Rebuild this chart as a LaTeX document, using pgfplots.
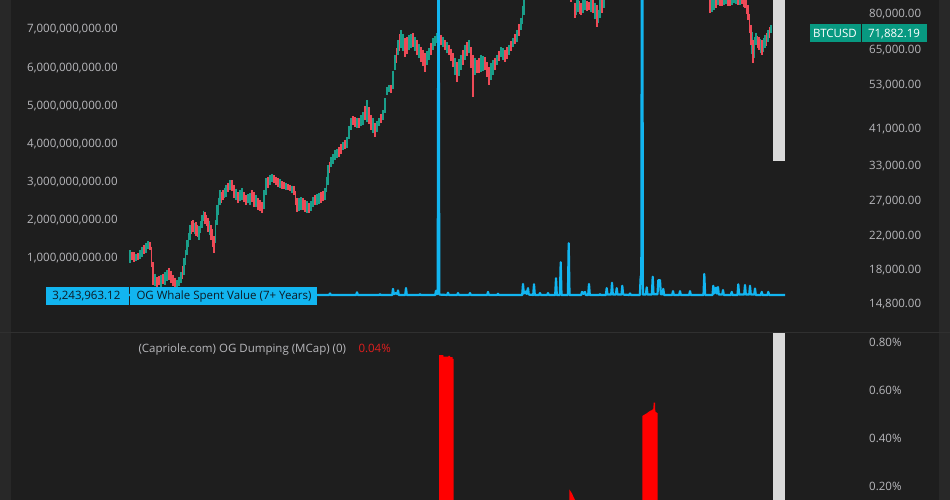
\documentclass[border=0pt]{standalone}
\usepackage{pgfplots}
\pgfplotsset{compat=1.18}
\usepackage{fontspec}
\setmainfont{Open Sans}
\definecolor{bg}{HTML}{1E1E1E}
\definecolor{strip}{HTML}{282828}
\definecolor{sep}{HTML}{303030}
\definecolor{tick}{HTML}{B8B8BC}
\definecolor{whale}{HTML}{12B5F0}
\definecolor{boxtxt}{HTML}{0D1B26}
\definecolor{btcbox}{HTML}{089981}
\definecolor{upc}{HTML}{1A9E8A}
\definecolor{dnc}{HTML}{EE4A57}
\definecolor{ogred}{HTML}{FF0000}
\definecolor{pctred}{HTML}{E01E1E}
\definecolor{scroll}{HTML}{DADADA}
\newcommand\tvfont{\fontsize{11.5pt}{13pt}\selectfont}

\pgfplotsset{
  tvpane/.style={scale only axis, width=950pt, xmin=0, xmax=950,
    axis line style={draw=none}, xtick=\empty, major tick length=0pt,
    minor tick length=0pt, tick style={draw=none}, clip=true,
    yticklabel style={font=\tvfont, text=tick, inner sep=0pt, anchor=west,
      text height=8pt, text depth=0pt}},
}

\begin{document}
\begin{tikzpicture}
\useasboundingbox (0,0) rectangle (950pt,500pt);
\fill[bg] (0,0) rectangle (950pt,500pt);
\fill[strip] (0,0) rectangle (10.7pt,500pt);
\fill[strip] (939.3pt,0) rectangle (950pt,500pt);
\draw[sep, line width=1pt] (0,167.5pt) -- (950pt,167.5pt);

% BTCUSD candles (high, low), log price scale (right)
\begin{axis}[tvpane, at={(0,168pt)}, anchor=south west, height=332pt,
  ymode=log, ymin=12520, ymax=86790, unbounded coords=jump,
  ytick={14800,18000,22000,27000,33000,41000,53000,65000,80000},
  yticklabels={{14,800.00},{18,000.00},{22,000.00},{27,000.00},{33,000.00},{41,000.00},{53,000.00},{65,000.00},{80,000.00}},
  yticklabel pos=right, yticklabel style={xshift=-81pt}]
\addplot[upc, line width=1.7pt] coordinates {
(130,20190)(130,18710)(130,nan) (136,19700)(136,18900)(136,nan) (140,20200)(140,19200)(140,nan)
(142,20540)(142,19380)(142,nan) (146,21030)(146,19840)(146,nan) (148,21300)(148,20300)(148,nan)
(155,17600)(155,16350)(155,nan) (161,17450)(161,16270)(161,nan) (165,17760)(165,16460)(165,nan)
(167,18000)(167,16900)(167,nan) (177,16950)(177,16270)(177,nan) (179,17300)(179,16400)(179,nan)
(181,17760)(181,16660)(181,nan) (184,19270)(184,17450)(184,nan) (185.5,20200)(185.5,18500)(185.5,nan)
(187,21400)(187,19610)(187,nan) (188.5,22300)(188.5,20600)(188.5,nan) (190,23360)(190,21400)(190,nan)
(194.5,23600)(194.5,22200)(194.5,nan) (199,23220)(199,21400)(199,nan) (200.5,23900)(200.5,22300)(200.5,nan)
(202,24760)(202,22950)(202,nan) (203.5,25400)(203.5,23900)(203.5,nan) (209.5,23900)(209.5,22100)(209.5,nan)
(215.5,24000)(215.5,21000)(215.5,nan) (217,26250)(217,23360)(217,nan) (218.5,27400)(218.5,24800)(218.5,nan)
(220,28660)(220,26250)(220,nan) (224.5,29000)(224.5,27300)(224.5,nan) (226,29500)(226,27510)(226,nan)
(230,30370)(230,28660)(230,nan) (236,28900)(236,27000)(236,nan) (240,28600)(240,26900)(240,nan)
(242,28990)(242,27030)(242,nan) (248,28000)(248,26600)(248,nan) (250,28160)(250,26250)(250,nan)
(256,27800)(256,26000)(256,nan) (264,28600)(264,25600)(264,nan) (266,30730)(266,27830)(266,nan)
(270,31270)(270,29500)(270,nan) (272,31500)(272,30100)(272,nan) (280,30500)(280,29000)(280,nan)
(286,29840)(286,28660)(286,nan) (292,29400)(292,28200)(292,nan) (299,27300)(299,25400)(299,nan)
(301,27510)(301,25500)(301,nan) (307,26800)(307,25100)(307,nan) (311,26900)(311,25400)(311,nan)
(313,27510)(313,25950)(313,nan) (317,27990)(317,26250)(317,nan) (319,28100)(319,26400)(319,nan)
(325,28990)(325,27030)(325,nan) (326.5,31000)(326.5,28300)(326.5,nan) (328,33150)(328,29500)(328,nan)
(331,34740)(331,32770)(331,nan) (333,35400)(333,33400)(333,nan) (335,36180)(335,34130)(335,nan)
(337,36500)(337,34500)(337,nan) (343,37910)(343,36180)(343,nan) (347,39030)(347,36600)(347,nan)
(349,41500)(349,38500)(349,nan) (351,43610)(351,40660)(351,nan) (357,43600)(357,41200)(357,nan)
(361,44400)(361,41500)(361,nan) (363,45170)(363,41860)(363,nan) (367,48430)(367,42600)(367,nan)
(373,43600)(373,40000)(373,nan) (377,42900)(377,40300)(377,nan) (379,43610)(379,41620)(379,nan)
(383,45700)(383,43100)(383,nan) (385,49000)(385,44800)(385,nan) (387,52260)(387,49870)(387,nan)
(389,52800)(389,50600)(389,nan) (393,57500)(393,51500)(393,nan) (395,62980)(395,57710)(395,nan)
(398,68740)(398,62980)(398,nan) (401,72870)(401,65600)(401,nan) (403,71000)(403,64500)(403,nan)
(409,70770)(409,64850)(409,nan) (411,71200)(411,65600)(411,nan) (415,70000)(415,64500)(415,nan)
(419,67000)(419,61700)(419,nan) (427,64500)(427,59500)(427,nan) (429,65600)(429,61170)(429,nan)
(433,69550)(433,64850)(433,nan) (435,70500)(435,66200)(435,nan) (437,71600)(437,67550)(437,nan)
(439,71400)(439,67000)(439,nan) (443,69800)(443,65800)(443,nan) (447,67800)(447,63800)(447,nan)
(455,62000)(455,56000)(455,nan) (459,61600)(459,55600)(459,nan) (461,62980)(461,57710)(461,nan)
(465,66760)(465,61170)(465,nan) (469,68740)(469,63720)(469,nan) (475,62000)(475,56000)(475,nan)
(481,62980)(481,57030)(481,nan) (483,62500)(483,57200)(483,nan) (491,60000)(491,54500)(491,nan)
(493,61170)(493,56040)(493,nan) (497,62980)(497,59410)(497,nan) (501,65990)(501,62250)(501,nan)
(503,65500)(503,61200)(503,nan) (509,66760)(509,62980)(509,nan) (513,69550)(513,65990)(513,nan)
(517,72870)(517,67940)(517,nan) (521,78160)(521,72870)(521,nan) (522.5,84000)(522.5,75500)(522.5,nan)
(524,90500)(524,79530)(524,nan) (530,93000)(530,87500)(530,nan) (536,99000)(536,92000)(536,nan)
(554,106000)(554,98000)(554,nan) (576.5,87000)(576.5,79500)(576.5,nan) (578,88000)(578,80940)(578,nan)
(583,86800)(583,80500)(583,nan) (585,87500)(585,81890)(585,nan) (591,87000)(591,81000)(591,nan)
(595,85500)(595,77500)(595,nan) (598.5,82000)(598.5,75800)(598.5,nan) (600,87000)(600,78160)(600,nan)
(604,92000)(604,82850)(604,nan) (608,97000)(608,88000)(608,nan) (615,104000)(615,95000)(615,nan)
(625,108000)(625,101000)(625,nan) (660,118000)(660,108000)(660,nan) (680,120000)(680,110000)(680,nan)
(712,89000)(712,81000)(712,nan) (714,88000)(714,81890)(714,nan) (718,90000)(718,84310)(718,nan)
(724,90500)(724,84200)(724,nan) (726,90000)(726,84810)(726,nan) (732,91500)(732,84500)(732,nan)
(734,91000)(734,85300)(734,nan) (736,92000)(736,85000)(736,nan) (740,92500)(740,84500)(740,nan)
(752,72000)(752,63500)(752,nan) (754.5,70000)(754.5,62000)(754.5,nan) (756,71600)(756,66760)(756,nan)
(760.5,69000)(760.5,63800)(760.5,nan) (763.5,69500)(763.5,64000)(763.5,nan) (765,70770)(765,65600)(765,nan)
(768,72870)(768,67940)(768,nan) (771,75020)(771,71600)(771,nan)
};
\addplot[dnc, line width=1.7pt] coordinates {
(132,20000)(132,19100)(132,nan) (134,19960)(134,18820)(134,nan) (138,19840)(138,19040)(138,nan)
(144,20800)(144,19700)(144,nan) (150,21150)(150,20190)(150,nan) (151.5,20600)(151.5,18300)(151.5,nan)
(153,18820)(153,16460)(153,nan) (157,17250)(157,16270)(157,nan) (159,17400)(159,16500)(159,nan)
(163,17600)(163,16600)(163,nan) (169,18170)(169,16950)(169,nan) (171,17900)(171,16700)(171,nan)
(173,17450)(173,16370)(173,nan) (175,17200)(175,16300)(175,nan) (182.5,18400)(182.5,17100)(182.5,nan)
(191.5,23900)(191.5,22200)(191.5,nan) (193,24050)(193,22420)(193,nan) (196,23770)(196,21900)(196,nan)
(197.5,23400)(197.5,21800)(197.5,nan) (205,25200)(205,23490)(205,nan) (206.5,24800)(206.5,23200)(206.5,nan)
(208,24330)(208,22420)(208,nan) (211,23360)(211,21400)(211,nan) (212.5,22800)(212.5,20600)(212.5,nan)
(214,21900)(214,19840)(214,nan) (221.5,28300)(221.5,26600)(221.5,nan) (223,28660)(223,27030)(223,nan)
(228,29900)(228,28300)(228,nan) (232,30300)(232,28500)(232,nan) (234,29500)(234,27350)(234,nan)
(238,28320)(238,26560)(238,nan) (244,28300)(244,26700)(244,nan) (246,27830)(246,26250)(246,nan)
(252,28600)(252,26700)(252,nan) (254,28320)(254,25950)(254,nan) (258,27350)(258,25500)(258,nan)
(260,27000)(260,25300)(260,nan) (262,26710)(262,25050)(262,nan) (268,31000)(268,29000)(268,nan)
(274,31270)(274,29840)(274,nan) (276,31000)(276,29500)(276,nan) (278,30730)(278,29160)(278,nan)
(282,30190)(282,28820)(282,nan) (284,30100)(284,28800)(284,nan) (288,29700)(288,28600)(288,nan)
(290,29500)(290,28490)(290,nan) (294,29330)(294,27830)(294,nan) (295.5,28500)(295.5,26200)(295.5,nan)
(297,27350)(297,25200)(297,nan) (303,27300)(303,25500)(303,nan) (305,27030)(305,25200)(305,nan)
(309,26560)(309,25050)(309,nan) (315,27800)(315,26200)(315,nan) (321,28320)(321,26560)(321,nan)
(323,28500)(323,26800)(323,nan) (329.5,33800)(329.5,31600)(329.5,nan) (339,36820)(339,34740)(339,nan)
(341,37400)(341,35400)(341,nan) (345,38400)(345,36300)(345,nan) (353,44000)(353,41800)(353,nan)
(355,43870)(355,41380)(355,nan) (359,43610)(359,41140)(359,nan) (365,46700)(365,43000)(365,nan)
(369,46500)(369,42000)(369,nan) (371,44380)(371,40660)(371,nan) (375,42360)(375,39030)(375,nan)
(381,44600)(381,42300)(381,nan) (391,52870)(391,50460)(391,nan) (396.5,65500)(396.5,60000)(396.5,nan)
(399.5,71000)(399.5,64500)(399.5,nan) (405,69550)(405,62250)(405,nan) (407,70000)(407,63500)(407,nan)
(413,71600)(413,65990)(413,nan) (417,68740)(417,62980)(417,nan) (421,65990)(421,60450)(421,nan)
(423,65000)(423,58900)(423,nan) (425,63720)(425,57030)(425,nan) (431,67500)(431,63000)(431,nan)
(441,70770)(441,66760)(441,nan) (445,68740)(445,64850)(445,nan) (449,66760)(449,62980)(449,nan)
(451,65400)(451,60800)(451,nan) (453,63720)(453,58730)(453,nan) (457,60450)(457,53800)(457,nan)
(463,64800)(463,59500)(463,nan) (467,67800)(467,62500)(467,nan) (471,66000)(471,58500)(471,nan)
(473,62980)(473,49290)(473,nan) (477,61170)(477,56700)(477,nan) (479,62000)(479,56800)(479,nan)
(485,62250)(485,57710)(485,nan) (487,60500)(487,55300)(487,nan) (489,58730)(489,52870)(489,nan)
(495,62000)(495,57800)(495,nan) (499,64500)(499,60800)(499,nan) (505,64850)(505,60450)(505,nan)
(507,65800)(507,61600)(507,nan) (511,68200)(511,64400)(511,nan) (515,71200)(515,67000)(515,nan)
(519,75500)(519,70400)(519,nan) (542,104000)(542,96000)(542,nan) (548,102000)(548,94000)(548,nan)
(560,102000)(560,95000)(560,nan) (566,98000)(566,90000)(566,nan) (571,93000)(571,86000)(571,nan)
(575,85300)(575,78160)(575,nan) (579.5,86500)(579.5,80000)(579.5,nan) (581,85300)(581,79530)(581,nan)
(587,86400)(587,81500)(587,nan) (589,85800)(589,81890)(589,nan) (593,88000)(593,80470)(593,nan)
(597,84310)(597,74160)(597,nan) (602,89000)(602,80500)(602,nan) (640,110000)(640,104000)(640,nan)
(695,112000)(695,104000)(695,nan) (705,100000)(705,92000)(705,nan) (710,90000)(710,80470)(710,nan)
(716,89500)(716,83000)(716,nan) (720,90500)(720,84000)(720,nan) (722,91000)(722,83820)(722,nan)
(728,91000)(728,84000)(728,nan) (730,92000)(730,83820)(730,nan) (738,93000)(738,84310)(738,nan)
(742,92000)(742,84810)(742,nan) (743.5,91000)(743.5,83500)(743.5,nan) (745,90000)(745,82850)(745,nan)
(746.5,87500)(746.5,80000)(746.5,nan) (748,84310)(748,77250)(748,nan) (749.5,80000)(749.5,71500)(749.5,nan)
(751,75020)(751,66760)(751,nan) (753,68740)(753,60100)(753,nan) (757.5,70500)(757.5,65500)(757.5,nan)
(759,69950)(759,64850)(759,nan) (762,68740)(762,62980)(762,nan) (766.5,71500)(766.5,66500)(766.5,nan)
(769.5,74000)(769.5,69500)(769.5,nan)
};
\end{axis}

% OG Whale Spent Value (7+ Years), billions USD (left)
\begin{axis}[tvpane, at={(0,168pt)}, anchor=south west, height=332pt,
  ymin=-0.963, ymax=7.762, ytick={1,2,3,4,5,6,7},
  yticklabels={{1,000,000,000.00},{2,000,000,000.00},{3,000,000,000.00},{4,000,000,000.00},{5,000,000,000.00},{6,000,000,000.00},{7,000,000,000.00}},
  yticklabel pos=left, yticklabel style={xshift=27pt}]
\addplot[whale, line width=2.2pt, line join=round] coordinates {
(125,0.01)(329.2,0.01)(330,0.05)(330.8,0.01)(356.2,0.01)(357,0.08)(357.8,0.01)(379.2,0.01)(380,0.03)
(380.8,0.01)(392.2,0.01)(393,0.17)(393.8,0.03)(396,0.06)(397.3,0.03)(398,0.13)(398.8,0.01)
(405.2,0.01)(406,0.19)(406.8,0.01)(419.2,0.01)(420,0.03)(420.8,0.01)(435.2,0.01)(436,0.12)
(436.8,0.03)(437.7,0.05)(438.5,11)(439.3,0.02)(447.2,0.01)(448,0.07)(448.8,0.01)(457.2,0.01)
(458,0.06)(458.8,0.01)(469.2,0.01)(470,0.06)(470.8,0.01)(487.2,0.01)(488,0.09)(488.8,0.01)
(497.2,0.01)(498,0.04)(498.8,0.01)(522.2,0.01)(523,0.3)(523.8,0.05)(525.5,0.1)(526.5,0.04)
(528,0.19)(528.8,0.02)(533.2,0.01)(534,0.29)(534.8,0.01)(539.2,0.01)(540,0.06)(540.8,0.01)
(547.2,0.01)(548,0.06)(548.8,0.01)(555.2,0.01)(556,0.45)(556.8,0.01)(559.9,0.01)(560.7,0.87)
(561.5,0.01)(567.9,0.01)(568.7,1.37)(569.5,0.01)(581.2,0.01)(582,0.09)(583.5,0.04)(585,0.09)
(585.8,0.01)(588.2,0.01)(589,0.3)(589.8,0.01)(599.2,0.01)(600,0.03)(600.8,0.01)(605.9,0.01)
(606.7,0.19)(607.5,0.02)(611.2,0.02)(612,0.33)(612.8,0.02)(615.9,0.02)(616.7,0.19)(617.5,0.02)
(621.5,0.02)(622.3,0.25)(623.1,0.02)(629.2,0.01)(630,0.05)(630.8,0.01)(639.9,0.01)(640.7,0.51)
(641.3,0.3)(642.1,14)(642.9,0.02)(645.9,0.02)(646.7,0.21)(647.5,0.02)(651.9,0.02)(652.7,0.49)
(653.5,0.03)(657.5,0.03)(658.3,0.4)(660,0.4)(660.8,0.03)(662.5,0.03)(663.3,0.17)(664.1,0.01)
(672.2,0.01)(673,0.11)(673.8,0.01)(679.2,0.01)(680,0.11)(680.8,0.01)(689.2,0.01)(690,0.11)
(690.8,0.01)(703.5,0.01)(704.3,0.56)(705.1,0.01)(712.5,0.01)(713.3,0.25)(714.1,0.05)(716,0.2)
(716.8,0.05)(718,0.22)(718.8,0.02)(722.2,0.02)(723,0.14)(723.8,0.01)(730.9,0.01)(731.7,0.09)
(732.5,0.01)(737.5,0.01)(738.3,0.29)(739.1,0.02)(744.2,0.02)(745,0.27)(745.8,0.02)(749.2,0.02)
(750,0.25)(750.8,0.02)(754.2,0.02)(755,0.18)(755.8,0.01)(760.9,0.01)(761.7,0.09)(762.5,0.01)
(767.5,0.01)(768.3,0.09)(769.1,0.01)(785,0.01)
};
\end{axis}

% (Capriole.com) OG Dumping (MCap), percent (right)
\begin{axis}[tvpane, at={(0,0)}, anchor=south west, height=167pt,
  ymin=0.1447, ymax=0.8386, ytick={0.2,0.4,0.6,0.8},
  yticklabels={{0.20\%},{0.40\%},{0.60\%},{0.80\%}},
  yticklabel pos=right, yticklabel style={xshift=-81pt}]
\addplot[fill=ogred, draw=none] coordinates {
(439,0)(439,0.747)(443.3,0.747)(443.3,0.740)(448.3,0.740)(448.3,0.744)(450,0.744)
(450,0.738)(452.7,0.738)(452.7,0.731)(453.7,0.731)(453.7,0)} \closedcycle;
\addplot[fill=ogred, draw=none] coordinates {
(569.3,0)(569.3,0.189)(570.7,0.180)(572,0.172)(573.3,0.159)(575,0.145)(575,0)} \closedcycle;
\addplot[fill=ogred, draw=none] coordinates {
(642.3,0)(642.3,0.494)(646.7,0.505)(650,0.515)(652.3,0.519)(653.3,0.525)(653.7,0.549)
(655,0.549)(655.3,0.512)(657.7,0.505)(657.7,0)} \closedcycle;
\end{axis}

% scroll bar
\fill[scroll] (772.7pt,338.7pt) rectangle (785.3pt,500pt);
\fill[scroll] (772.7pt,0) rectangle (785.3pt,166.7pt);

% whale value label
\fill[whale] (46pt,195pt) rectangle (129pt,213.3pt);
\fill[whale] (130.2pt,195pt) rectangle (317pt,213.3pt);
\tikzset{lbl/.style={font=\tvfont, inner sep=0pt, text height=8pt, text depth=0pt}}
\node[lbl, text=boxtxt] at (86.4pt,204.2pt) {3,243,963.12};
\node[lbl, text=boxtxt] at (224pt,204.2pt) {OG Whale Spent Value (7+ Years)};

% BTCUSD price label
\fill[btcbox] (810pt,457.7pt) rectangle (860.7pt,475.7pt);
\fill[btcbox] (861.7pt,457.7pt) rectangle (927.3pt,475.7pt);
\node[lbl, text=white] at (835pt,466.7pt) {BTCUSD};
\node[lbl, text=white] at (894pt,466.7pt) {71,882.19};

% pane legend
\node[lbl, text=tick, anchor=west] at (138.3pt,151pt) {(Capriole.com) OG Dumping (MCap) (0)};
\node[lbl, text=pctred, anchor=west] at (358.3pt,151pt) {0.04\%};
\end{tikzpicture}
\end{document}
